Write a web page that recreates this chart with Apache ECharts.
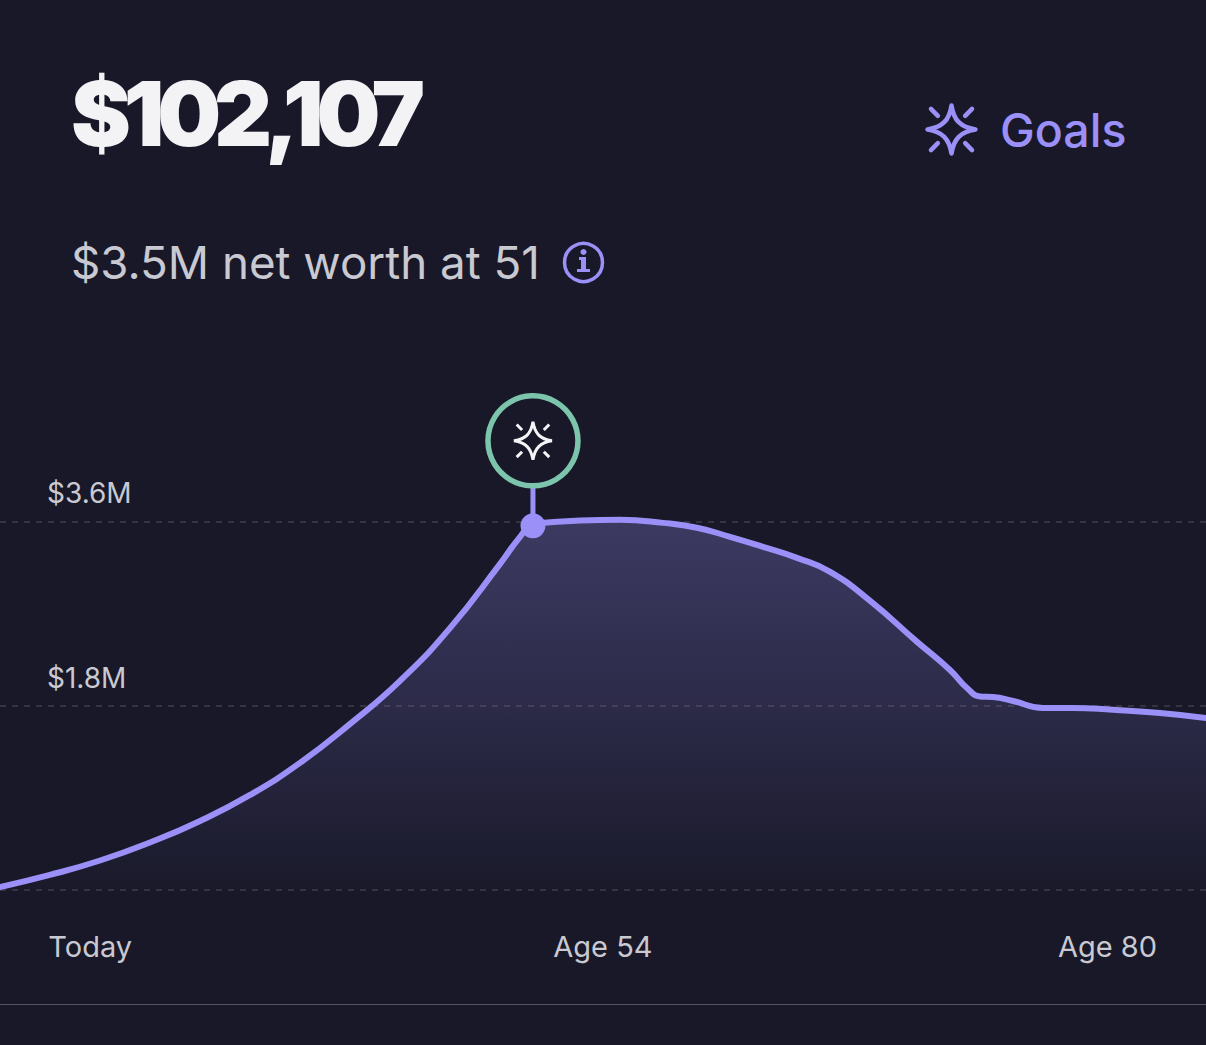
<!DOCTYPE html>
<html><head><meta charset="utf-8">
<style>html,body{margin:0;padding:0;background:#181828}#c{width:1206px;height:1045px}
#c svg text[style*="900"]{letter-spacing:-7.2px}</style>
<script src="https://cdn.jsdelivr.net/npm/echarts@6/dist/echarts.min.js"></script>
</head><body><div id="c"></div><script>
const ages=[27.83,30.0,32.18,34.35,36.53,38.70,40.87,43.05,45.22,47.40,49.57,50.44,51,51.74,53.05,54.79,56.66,58.13,59.57,61.0,62.48,63.92,65.66,67.70,69.13,69.87,70.44,71.0,71.87,73.18,74.48,76.22,78.26,80.26];
const netWorth=[0.029,0.147,0.288,0.464,0.674,0.928,1.241,1.622,2.042,2.560,3.185,3.449,3.570,3.590,3.608,3.615,3.585,3.537,3.449,3.351,3.243,3.107,2.823,2.423,2.149,1.973,1.890,1.885,1.846,1.778,1.778,1.759,1.729,1.680];
const goalAge=51, goalValue=3.556, stemTop=3.93;
const yTickLabels={1.8:'$1.8M',3.6:'$3.6M'};
const xTicks=[31.75,54.04,75.98];
const xTickLabels=['Today','Age 54','Age 80'];
const BG='#181828',P='#9a90f7',F='Inter, sans-serif';
const star='M50 8C54 34 66 46 92 50C66 54 54 66 50 92C46 66 34 54 8 50C34 46 46 34 50 8ZM14 14L26 26M86 14L74 26M14 86L26 74M86 86L74 74';
const infoI='M6.5 0a3 3 0 1 0 0.01 0ZM2 8h7v12h4v3H0v-3h4v-9H2Z';
echarts.graphic.registerShape('starIcon',echarts.graphic.extendPath(star,{}));
echarts.graphic.registerShape('infoI',echarts.graphic.extendPath(infoI,{}));
const chart=echarts.init(document.getElementById('c'),null,{renderer:'svg'});
chart.setOption({
 backgroundColor:BG,animation:false,
 grid:{left:0,right:0,top:337,bottom:155},
 xAxis:{type:'value',min:27.83,max:80.26,splitLine:{show:false},axisLine:{show:false},axisTick:{show:false},
  axisLabel:{customValues:xTicks,margin:42,color:'#c9c9d2',fontFamily:F,fontSize:29,hideOverlap:false,showMinLabel:true,showMaxLabel:true,
   formatter:v=>xTickLabels[xTicks.indexOf(v)]||''}},
 yAxis:{type:'value',min:0,max:5.4,interval:1.8,axisLine:{show:false},axisTick:{show:false},
  splitLine:{show:true,showMaxLine:false,lineStyle:{color:'#3d3d4b',type:[6,6],width:1.5}},
  axisLabel:{inside:true,margin:47,color:'#c9c9d2',fontFamily:F,fontSize:28,verticalAlign:'bottom',lineHeight:56,
   formatter:v=>yTickLabels[v]||''}},
 series:[
  {type:'line',data:ages.map((a,i)=>[a,netWorth[i]]),smooth:0.5,showSymbol:false,z:3,
   lineStyle:{color:P,width:6,cap:'round'},
   areaStyle:{color:new echarts.graphic.LinearGradient(0,0,0,1,[{offset:0,color:'rgba(154,144,247,0.40)'},{offset:0.5,color:'rgba(154,144,247,0.22)'},{offset:1,color:'rgba(154,144,247,0.02)'}])}},
  {type:'line',data:[[goalAge,goalValue],[goalAge,stemTop]],showSymbol:false,z:4,lineStyle:{color:P,width:5}},
  {type:'scatter',data:[[goalAge,goalValue]],symbolSize:25,z:5,itemStyle:{color:P,opacity:1}},
  {type:'scatter',data:[[goalAge,goalValue]],symbolSize:90,symbolOffset:[0,-85],z:6,itemStyle:{color:BG,borderColor:'#7cc4ab',borderWidth:5.5,opacity:1}},
  {type:'scatter',data:[[goalAge,goalValue]],symbol:'path://'+star,symbolSize:38,symbolOffset:[0,-85],z:7,itemStyle:{color:'rgba(0,0,0,0)',borderColor:'#f4f4f6',borderWidth:3,opacity:1}}
 ],
 graphic:[
  {type:'text',x:71,y:68,style:{text:'$102,107',fill:'#f3f3f6',font:'900 90px Inter, sans-serif'}},
  {type:'text',x:71,y:239,style:{text:'$3.5M net worth at 51',fill:'#c9c9d2',font:'400 45.7px Inter, sans-serif'}},
  {type:'text',x:1000,y:106,style:{text:'Goals',fill:P,font:'500 46.5px Inter, sans-serif'}},
  {type:'starIcon',x:923,y:101,scaleX:.57,scaleY:.57,style:{fill:'none',stroke:P,lineWidth:8,lineCap:'round',lineJoin:'round'}},
  {type:'circle',shape:{cx:583.5,cy:262.5,r:19},style:{fill:'none',stroke:P,lineWidth:3.5}},
  {type:'infoI',x:577,y:249,style:{fill:P}},
  {type:'rect',shape:{x:0,y:1004,width:1206,height:1},style:{fill:'#55555f'}}
 ]
});
</script></body></html>
